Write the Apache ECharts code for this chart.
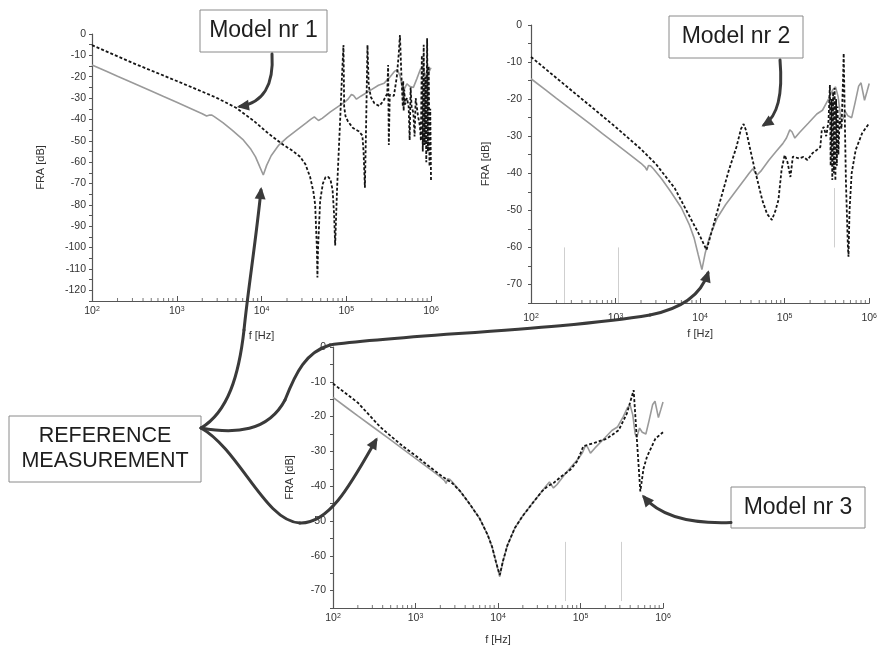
<!DOCTYPE html>
<html><head><meta charset="utf-8">
<script src="https://cdn.jsdelivr.net/npm/echarts@6/dist/echarts.min.js"></script>
<style>html,body{margin:0;padding:0;background:#fff}#c{width:880px;height:651px}</style>
</head><body><div id="c"></div>
<script>
// ---- data (frequency [Hz], FRA [dB]) ----
const reference = [[100,-14.5],[150,-17.6],[200,-19.8],[300,-22.85],[500,-26.7],[700,-29.3],[1000,-32],[1500,-35.1],[2000,-37.3],[2250,-38.4],[2350,-39.2],[2450,-37.9],[2600,-38],[2800,-38.8],[3500,-41.5],[4500,-45],[6000,-49.3],[7500,-54],[8500,-57.5],[9500,-62],[10500,-66],[11500,-61.5],[13000,-57],[16000,-52],[20000,-48.5],[27000,-44.5],[34000,-41.5],[38000,-40],[42000,-38.8],[44000,-39],[47000,-40.5],[52000,-39.5],[65000,-36.5],[80000,-34],[95000,-32],[105000,-30.5],[115000,-28.3],[122000,-28.8],[132000,-30.5],[150000,-29],[190000,-26.5],[240000,-24],[280000,-23],[330000,-20],[370000,-17.5],[400000,-16.7],[430000,-19.5],[460000,-25],[480000,-26],[520000,-23.3],[560000,-24.5],[620000,-25],[680000,-21],[750000,-16.5],[800000,-15.6],[840000,-18],[880000,-20.3],[940000,-18],[1000000,-15.8]];
const model1 = [[100,-5.2],[300,-13.5],[1000,-22],[2000,-27],[3000,-30],[5000,-34.5],[8000,-40.5],[12000,-46.5],[18200,-52],[23000,-54.5],[28600,-57.5],[33000,-61],[37500,-67],[41000,-74],[43000,-80],[45000,-100],[45700,-114],[46500,-100],[49200,-78],[53000,-70],[57000,-67],[61000,-66.9],[65000,-68],[69000,-73],[72000,-85],[74000,-99],[76000,-85],[78000,-72],[84800,-40],[89000,-20],[92700,-5.2],[94500,-34],[98000,-38.5],[105000,-41],[120000,-44],[140000,-45.5],[155000,-47.5],[160000,-55],[166000,-72],[172000,-40],[178000,-5.2],[184000,-24],[195000,-29.5],[215000,-32.5],[245000,-33.7],[275000,-31.3],[305000,-27.8],[312000,-14.5],[318000,-52],[326000,-28.5],[365000,-29],[395000,-20],[415000,-10],[430000,-0.5],[448000,-20],[465000,-34],[470000,-22],[476000,-36],[483000,-26],[495000,-33],[520000,-30],[545000,-34],[560000,-49.7],[575000,-25],[590000,-34],[620000,-37],[640000,-48],[660000,-30],[700000,-38],[740000,-43],[760000,-50],[780000,-10],[800000,-55],[820000,-5],[840000,-52],[860000,-20],[880000,-60],[900000,-2],[920000,-55],[940000,-15],[960000,-62],[980000,-35],[1000000,-68.4]];
const model2 = [[100,-8.6],[200,-14.3],[500,-21.8],[1000,-27.5],[2000,-33.5],[3000,-37.5],[5000,-44],[7900,-52.6],[10000,-57],[11900,-60.7],[14000,-55],[17400,-47.2],[22000,-39],[26900,-32.9],[30500,-28],[32700,-26.7],[35000,-28.5],[40000,-34.5],[43600,-38.3],[54300,-47.2],[62000,-51],[70700,-52.6],[78000,-50],[84400,-47.2],[92000,-39],[100000,-35.1],[108000,-37],[117000,-41],[125000,-35.5],[148000,-36],[167000,-35.6],[186000,-36.4],[215000,-34.5],[240000,-33.7],[264000,-32.9],[275000,-28.3],[290000,-27.5],[310000,-30],[330000,-26],[343000,-16.2],[350000,-38],[358000,-20],[366000,-41.8],[374000,-18],[382000,-40],[390000,-17],[398000,-42],[406000,-20],[414000,-38],[422000,-22],[432000,-35],[447000,-25],[470000,-28],[490000,-15],[499000,-7.6],[510000,-20],[530000,-42],[560000,-60],[569000,-62.5],[585000,-50],[620000,-40],[692000,-33.7],[824000,-29.2],[930000,-27.5],[1000000,-26.5]];
const model3 = [[100,-10.5],[200,-16],[374,-23],[700,-28.5],[1000,-31.2],[1500,-34.5],[2000,-36.8],[2500,-38.4],[2700,-38.8],[3500,-41.5],[4500,-45],[6000,-49.3],[7500,-54],[8500,-57.5],[9500,-62],[10500,-65.5],[11500,-61.5],[13000,-57],[16000,-52],[20000,-48.5],[27000,-44.5],[34000,-41.5],[40000,-40],[47000,-39.1],[60000,-37],[75000,-35.3],[90000,-33],[100000,-30.6],[108000,-28.5],[150000,-27.5],[210000,-26.3],[290000,-23.9],[365000,-19.1],[441000,-12.4],[480000,-25.8],[531000,-41.5],[580000,-35],[640000,-31.5],[810000,-26.3],[1000000,-24.5]];
// faint vertical streaks present in the scanned panels: [freq, dB from, dB to]
const streaksB = [[247,-60,-75],[1070,-60,-75],[384000,-44,-60]];
const streaksC = [[65000,-56,-73],[309000,-56,-73]];
const decades = [100,1000,10000,100000];
const minorSteps = [2,3,4,5,6,7,8,9];
const yMins = [-125,-75,-75];

const minorFreqs = [];
decades.forEach(d => minorSteps.forEach(k => minorFreqs.push(k*d)));

const FONT = '"Liberation Sans", Arial, sans-serif';
const AX = '#555';
const grids = [
  {left:92, top:34, width:339, height:267},
  {left:531, top:25, width:350, height:278},
  {left:333, top:347, width:330, height:261}
];
const xNameGap = [29,25,26];
const xLabMargin = [5,10,5];
const yNameGap = [46,40,38];
const yLabMargin = [6,9,7];

const xAxes = grids.map((g,i) => ({
  type:'log', logBase:10, gridIndex:i, min:100, max:1000000, position:'bottom',
  axisLine:{onZero:false, lineStyle:{color:AX,width:1.2}},
  axisTick:{inside:true,length:5,lineStyle:{color:AX}},
  splitLine:{show:false},
  axisLabel:{margin:xLabMargin[i], formatter:v => '{b|10}{s|' + Math.round(Math.log10(v)) + '}',
    rich:{b:{fontSize:10.5,color:'#333',fontFamily:FONT,verticalAlign:'bottom'},
          s:{fontSize:7,color:'#333',fontFamily:FONT,verticalAlign:'top'}}},
  name:'f [Hz]', nameLocation:'middle', nameGap:xNameGap[i],
  nameTextStyle:{fontSize:11,color:'#333',fontFamily:FONT}
}));
const yAxes = grids.map((g,i) => ({
  type:'value', gridIndex:i, min:yMins[i], max:0, interval:5, position:'left',
  axisLine:{show:true,onZero:false,lineStyle:{color:AX,width:1.2}},
  axisTick:{show:true,length:3,lineStyle:{color:AX}},
  splitLine:{show:false},
  axisLabel:{margin:yLabMargin[i], fontSize:10.5, color:'#333', fontFamily:FONT,
    formatter:v => (v % 10 === 0 ? String(v) : '')},
  name:'FRA [dB]', nameLocation:'middle', nameGap:yNameGap[i], nameRotate:90,
  nameTextStyle:{fontSize:11,color:'#333',fontFamily:FONT}
}));

function refSeries(i){
  return {type:'line', xAxisIndex:i, yAxisIndex:i, data:reference, symbol:'none',
    lineStyle:{color:'#9a9a9a',width:1.6}, z:2, silent:true};
}
function modelSeries(i, data, streaks){
  const s = {type:'line', xAxisIndex:i, yAxisIndex:i, data:data, symbol:'none',
    lineStyle:{color:'#151515',width:1.8,type:[3,2]}, z:3, silent:true};
  if (streaks) s.markLine = {silent:true, symbol:['none','none'], label:{show:false}, animation:false,
    lineStyle:{color:'#cfcfcf',width:1,type:'solid'},
    data: streaks.map(t => [{coord:[t[0],t[1]]},{coord:[t[0],t[2]]}])};
  return s;
}
function minorSeries(i){
  return {type:'scatter', xAxisIndex:i, yAxisIndex:i, data:minorFreqs.map(f => [f, yMins[i]]),
    symbol:'rect', symbolSize:[1,3], symbolOffset:[0,-1.5], clip:false, silent:true,
    itemStyle:{color:AX}, z:4};
}

// ---- annotations ----
const ARC = '#3a3a3a';
const gfx = [];
function box(x,y,w,h,lines,size,lh){
  gfx.push({type:'rect', z:50, shape:{x:x,y:y,width:w,height:h}, style:{fill:'#fff',stroke:'#8a8a8a',lineWidth:1}});
  const cx = x + w/2, cy = y + h/2;
  lines.forEach((t,k) => gfx.push({type:'text', z:51, x:cx, y:cy + (k - (lines.length-1)/2)*lh,
    style:{text:t, font:size+'px '+FONT, fill:'#1e1e1e', textAlign:'center', textVerticalAlign:'middle'}}));
}
function arrow(segs){
  segs.forEach(s => gfx.push({type:'bezierCurve', z:60,
    shape:{x1:s[0],y1:s[1],cpx1:s[2],cpy1:s[3],cpx2:s[4],cpy2:s[5],x2:s[6],y2:s[7]},
    style:{stroke:ARC,lineWidth:3,fill:null,lineCap:'round'}}));
  const l = segs[segs.length-1];
  let dx = l[6]-l[4], dy = l[7]-l[5]; const n = Math.hypot(dx,dy); dx/=n; dy/=n;
  const L = 12, W = 5.5, tx = l[6]+dx*3, ty = l[7]+dy*3;
  const bx = tx - dx*L, by = ty - dy*L;
  gfx.push({type:'polygon', z:61, shape:{points:[[tx,ty],[bx-dy*W,by+dx*W],[bx+dy*W,by-dx*W]]}, style:{fill:ARC}});
}
box(200,10,127,42,['Model nr 1'],23,0);
box(669,16,134,42,['Model nr 2'],23,0);
box(731,487,134,41,['Model nr 3'],23,0);
box(9,416,192,66,['REFERENCE','MEASUREMENT'],21.5,25);
arrow([[272,54, 274,85, 263,103, 240,106.5]]);
arrow([[780,60, 783,95, 778,116, 764,125]]);
arrow([[731,522.5, 690,524, 660,516, 644,497]]);
arrow([[201,428, 228,412, 239,375, 244,330],[244,330, 248,290, 256,240, 261,190]]);
arrow([[201,428, 235,434, 268,432, 285,400],[285,400, 296,372, 306,352, 330,345],[330,345, 400,335, 560,330, 650,315],[650,315, 685,308, 702,292, 708,273]]);
arrow([[201,428, 240,450, 265,522, 300,523],[300,523, 330,524, 352,482, 376,440]]);

const chart = echarts.init(document.getElementById('c'), null, {renderer:'canvas'});
chart.setOption({
  animation:false,
  backgroundColor:'#fff',
  textStyle:{fontFamily:FONT},
  grid:grids,
  xAxis:xAxes,
  yAxis:yAxes,
  series:[
    refSeries(0), modelSeries(0, model1, null), minorSeries(0),
    refSeries(1), modelSeries(1, model2, streaksB), minorSeries(1),
    refSeries(2), modelSeries(2, model3, streaksC), minorSeries(2)
  ],
  graphic:{elements:gfx}
});
</script></body></html>
